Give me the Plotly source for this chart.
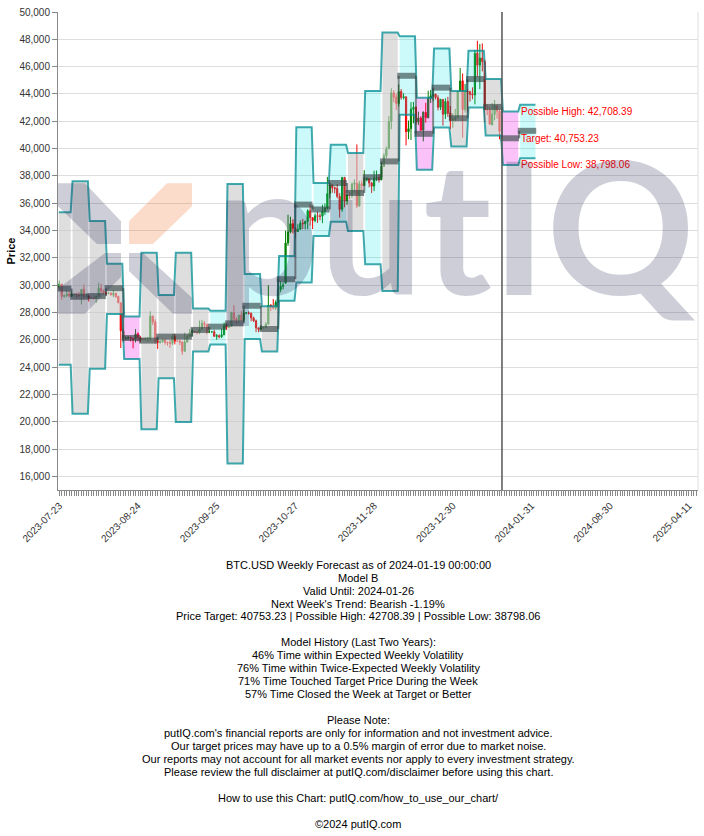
import pandas as pd
import plotly.graph_objects as go

# ---------------- daily candles (BTC.USD) ----------------
candle_dates = pd.date_range("2023-07-23", "2024-01-18", freq="D")
open_ = [
    29790, 30080, 29180, 29230, 29350, 29210, 29320, 29360, 29280,
    29230, 29700, 29170, 29180, 29070, 29050, 29040, 29180, 29770, 29580, 29450, 29400, 29420, 29280, 29410, 29170,
    28700, 26640, 26050, 26100, 26190, 26120, 26040, 26430, 26160, 26060, 26010, 26090, 26110, 27730, 27300,
    25930, 25800, 25870, 25970, 25810, 25780, 25750, 26240, 25900, 25900, 25840, 25160, 25840, 26230, 26540,
    26610, 26570, 26530, 26760, 27210, 27130, 26570, 26580, 26580, 26250, 26300, 26220, 26370, 27020, 26910,
    26970, 27990, 27520, 27430, 27800, 27430, 27950, 27970, 27940, 27600, 27390, 26870, 26760, 26860, 26870,
    27150, 28520, 28410, 28330, 28730, 29680, 29920, 30140, 33090, 33900, 34500, 34160, 33920, 34090, 34540, 34500,
    34660, 35450, 34940, 34730, 35080, 35050, 35050, 35420, 35630, 36700, 37310, 37130, 37070, 36500, 35550,
    37880, 36160, 36590, 36590, 37390, 37470, 35810, 37420, 37290, 37720, 37800, 37480, 37250, 37830, 37860,
    37720, 38690, 39470, 39980, 41990, 44080, 43770, 43300, 44180, 43730, 43790, 41240, 41470, 42880, 43030,
    41940, 42240, 41350, 42650, 42260, 43670, 43870, 43990, 43730, 43020, 43600, 42520, 43450, 42610, 42090, 42150,
    42280, 44190, 44960, 42860, 44190, 44160, 43990, 43930, 46990, 46110, 46630, 46370, 42840, 42840, 41730,
    42500, 43130, 42740,
]
high_ = [
    30330, 30090, 29300, 29670, 29570, 29530, 29400, 29450, 29510,
    29730, 30040, 29410, 29310, 29110, 29160, 29240, 30180, 30090, 29690, 29530, 29460, 29450, 29660, 29440, 29230,
    28760, 26790, 26260, 26260, 26210, 26130, 26780, 26550, 26260, 26090, 26170, 26200, 28090, 27760, 27490,
    26130, 25980, 26100, 26090, 25860, 26000, 26410, 26420, 25930, 25980, 25880, 26530, 26370, 26790, 26840,
    26660, 26620, 27410, 27460, 27370, 27150, 26720, 26640, 26720, 26420, 26390, 26810, 27260, 27200, 27090,
    28050, 28540, 27660, 27830, 28100, 28220, 28030, 28090, 27990, 27700, 27480, 26910, 27090, 26970, 27290,
    30000, 28610, 28980, 28890, 30200, 30290, 30200, 34000, 35150, 35010, 34820, 34240, 34460, 34740, 34850, 34720,
    35560, 35920, 34950, 35240, 35380, 35250, 35890, 35980, 37930, 37510, 37410, 37220, 37400, 36740, 37930,
    37930, 36690, 36830, 37520, 37750, 40300, 37640, 37660, 38420, 37890, 37820, 37560, 38380, 38390, 38140,
    38960, 39660, 40140, 42370, 44410, 44270, 44040, 44700, 44360, 44050, 43800, 42050, 43400, 43420, 43080,
    42700, 42360, 42720, 43350, 44240, 44290, 44370, 44000, 43910, 43600, 43600, 43680, 43790, 43120, 42600, 42900,
    44180, 45900, 45500, 44730, 44340, 44230, 44480, 47220, 47890, 47650, 47700, 46500, 43240, 43070, 43330,
    43560, 43200, 42880,
]
low_ = [
    29640, 28930, 29080, 29110, 29100, 29130, 29260, 29040, 29110,
    28590, 28960, 29100, 28800, 28980, 28960, 28700, 29130, 29400, 29320, 29260, 29360, 29260, 29120, 29060, 28700,
    25400, 25800, 25980, 26000, 25880, 25370, 25800, 25880, 25800, 25990, 25990, 25860, 25920, 27070, 25700,
    25330, 25720, 25780, 25640, 25570, 25400, 25620, 25660, 25860, 25610, 24900, 25130, 25770, 26210, 26240,
    26490, 26380, 26410, 26700, 26860, 26400, 26490, 26540, 26220, 26000, 26100, 26130, 26330, 26720, 26890,
    26960, 27330, 27170, 27220, 27380, 27290, 27870, 27840, 27350, 27300, 26560, 26560, 26690, 26810, 26850,
    27130, 28110, 28220, 28180, 28690, 29480, 29690, 30100, 32880, 33800, 33790, 33460, 33900, 34050, 34110, 34090,
    34100, 34360, 34110, 34600, 34560, 34750, 34540, 35140, 35560, 36360, 36760, 36720, 36360, 34940, 35370,
    35700, 35880, 36290, 36400, 36750, 35650, 35730, 36870, 37260, 37600, 37160, 36750, 36890, 37620, 37510,
    37690, 38650, 39300, 39980, 41420, 43390, 42830, 43080, 43580, 43600, 40230, 40680, 40630, 41850, 41720,
    41720, 41260, 40530, 41900, 42210, 43340, 43460, 43590, 42790, 42820, 41680, 42170, 42320, 41420, 41530, 41990,
    42220, 44180, 40800, 42630, 42660, 43440, 43610, 43240, 45240, 44350, 45650, 41900, 42450, 41720, 41720,
    42080, 42200, 40680,
]
close_ = [
    30080, 29180, 29230, 29350, 29220, 29320, 29360, 29280, 29230,
    29680, 29180, 29180, 29070, 29050, 29040, 29180, 29770, 29580, 29450, 29400, 29420, 29280, 29410, 29170, 28700,
    26660, 26050, 26100, 26190, 26120, 26040, 26430, 26160, 26060, 26010, 26090, 26110, 27730, 27300, 25930,
    25800, 25870, 25970, 25810, 25780, 25750, 26240, 25900, 25900, 25840, 25160, 25840, 26230, 26540, 26610,
    26570, 26530, 26760, 27210, 27130, 26570, 26580, 26580, 26250, 26300, 26220, 26370, 27020, 26910, 26970,
    27990, 27520, 27430, 27800, 27430, 27950, 27970, 27940, 27600, 27390, 26870, 26760, 26860, 26870, 27150,
    28520, 28410, 28330, 28720, 29680, 29920, 29990, 33090, 33900, 34500, 34160, 33910, 34090, 34540, 34500, 34670,
    35440, 34940, 34730, 35080, 35050, 35040, 35420, 35630, 36700, 37310, 37130, 37070, 36500, 35540, 37880,
    36150, 36600, 36590, 37390, 37470, 35810, 37420, 37290, 37720, 37800, 37480, 37250, 37830, 37860, 37710,
    38690, 39460, 39970, 41980, 44080, 43750, 43290, 44170, 43730, 43790, 41240, 41450, 42890, 43020, 41930,
    42240, 41360, 42660, 42260, 43660, 43870, 43990, 43740, 43020, 43610, 42520, 43440, 42580, 42070, 42140, 42280,
    44180, 44950, 42850, 44180, 44160, 43970, 43930, 46970, 46110, 46630, 46370, 42850, 42840, 41800, 42510,
    43150, 42740, 41260,
]

# ---------------- weekly forecast bands ----------------
week_starts = [
    "2023-07-22 10:00", "2023-07-28", "2023-08-04", "2023-08-11", "2023-08-18", "2023-08-25",
    "2023-09-01", "2023-09-08", "2023-09-15", "2023-09-22", "2023-09-29", "2023-10-06",
    "2023-10-13", "2023-10-20", "2023-10-27", "2023-11-03", "2023-11-10", "2023-11-17",
    "2023-11-24", "2023-12-01", "2023-12-08", "2023-12-15", "2023-12-22", "2023-12-29",
    "2024-01-05", "2024-01-12", "2024-01-19", "2024-01-26",
]
week_end_last = "2024-02-02"
week_high = [
    35340, 37600, 34690, 31575, 27710, 32380, 29270, 32380, 28290, 28125, 37410, 30820,
    28450, 32135, 41560, 37480, 40280, 39670, 44220, 48490, 48230, 43730, 47330, 44220,
    47160, 45090, 42708.39, 43200,
]
week_low = [
    24170, 20590, 23870, 27880, 24600, 19450, 23190, 19980, 25135, 25646, 16944, 26060,
    25135, 28850, 30190, 33600, 34650, 33960, 31530, 29580, 42470, 38450, 41540, 40160,
    43000, 40960, 38798.06, 39300,
]
week_target = [
    29750, 29150, 29200, 29780, 26130, 25940, 26230, 26230, 26720, 26960, 27200, 28490,
    26790, 30435, 35900, 35540, 37480, 36750, 37900, 39060, 45330, 41080, 44460, 42220,
    45090, 43050, 40753.23, 41300,
]
# zone of each week: N = neutral (grey), U = cyan, D = pink
week_zone = [
    "N", "N", "N", "N", "D", "N", "N", "N", "N", "U", "N", "U",
    "N", "U", "U", "U", "U", "N", "U", "N", "U", "D", "U", "N",
    "U", "N", "D", "U",
]

forecast_date = "2024-01-19"
label_date = "2024-01-26"
forecast_high, forecast_target, forecast_low = 42708.39, 40753.23, 38798.06

tick_dates = ["2023-07-23", "2023-08-24", "2023-09-25", "2023-10-27", "2023-11-28",
              "2023-12-30", "2024-01-31", "2024-03-03", "2024-04-04"]
tick_labels = ["2023-07-23", "2023-08-24", "2023-09-25", "2023-10-27", "2023-11-28",
               "2023-12-30", "2024-01-31", "2024-08-30", "2025-04-11"]
y_ticks = list(range(16000, 50001, 2000))

footer_lines = [
    "BTC.USD Weekly Forecast as of 2024-01-19 00:00:00",
    "Model B",
    "Valid Until: 2024-01-26",
    "Next Week's Trend: Bearish -1.19%",
    "Price Target: 40753.23 | Possible High: 42708.39 | Possible Low: 38798.06",
    "",
    "Model History (Last Two Years):",
    "46% Time within Expected Weekly Volatility",
    "76% Time within Twice-Expected Weekly Volatility",
    "71% Time Touched Target Price During the Week",
    "57% Time Closed the Week at Target or Better",
    "",
    "Please Note:",
    "putIQ.com's financial reports are only for information and not investment advice.",
    "Our target prices may have up to a 0.5% margin of error due to market noise.",
    "Our reports may not account for all market events nor apply to every investment strategy.",
    "Please review the full disclaimer at putIQ.com/disclaimer before using this chart.",
    "",
    "How to use this Chart: putIQ.com/how_to_use_our_chart/",
    "",
    "\u00a92024 putIQ.com",
]

# ---------------- styling ----------------
W, H = 704, 836
ML, MR, MT, MB = 58, 6, 10, 346
PW, PH = W - ML - MR, H - MT - MB
FONT = "Arial, Liberation Sans, sans-serif"
ZONE_FILL = {"N": "rgba(200,200,200,0.6)", "U": "rgba(0,232,235,0.2)", "D": "rgba(240,0,235,0.24)"}
EDGE = "rgba(0,140,145,0.75)"
BAR = "rgba(50,66,66,0.62)"

starts = pd.to_datetime(week_starts, format="ISO8601")
ends = list(starts[1:]) + [pd.Timestamp(week_end_last)]
d = pd.Timedelta(hours=9)

fig = go.Figure()

# band fills
for z in ["N", "U", "D"]:
    xs, ys = [], []
    for s, e, hi, lo, zz in zip(starts, ends, week_high, week_low, week_zone):
        if zz != z:
            continue
        xs += [s + d, s + d, e - d, e - d, s + d, None]
        ys += [lo, hi, hi, lo, lo, None]
    fig.add_trace(go.Scatter(x=xs, y=ys, fill="toself", fillcolor=ZONE_FILL[z], mode="none",
                             hoverinfo="skip", showlegend=False))

# band outlines
for vals in (week_high, week_low):
    xs, ys = [], []
    for s, e, v in zip(starts, ends, vals):
        xs += [s + d, e - d]
        ys += [v, v]
    fig.add_trace(go.Scatter(x=xs, y=ys, mode="lines", line=dict(color=EDGE, width=2),
                             hoverinfo="skip", showlegend=False))

# candles
fig.add_trace(go.Candlestick(
    x=candle_dates, open=open_, high=high_, low=low_, close=close_,
    increasing=dict(line=dict(color="#008000", width=1), fillcolor="#008000"),
    decreasing=dict(line=dict(color="#ff0000", width=1), fillcolor="#ff0000"),
    whiskerwidth=0, showlegend=False, hoverinfo="skip"))

# target: thin vertical connectors between weeks + thick weekly bars
xs, ys = [], []
for i in range(len(week_target) - 1):
    xs += [ends[i], ends[i], None]
    ys += [week_target[i], week_target[i + 1], None]
fig.add_trace(go.Scatter(x=xs, y=ys, mode="lines", line=dict(color=BAR, width=2),
                         hoverinfo="skip", showlegend=False))
xs, ys = [], []
for s, e, t in zip(starts, ends, week_target):
    xs += [s - pd.Timedelta(hours=14), e - pd.Timedelta(hours=2), None]
    ys += [t, t, None]
fig.add_trace(go.Scatter(x=xs, y=ys, mode="lines", line=dict(color=BAR, width=6),
                         hoverinfo="skip", showlegend=False))

# forecast labels
for txt, v in [("Possible High: ", forecast_high), ("Target: ", forecast_target),
               ("Possible Low: ", forecast_low)]:
    fig.add_annotation(x=label_date, y=v, text=f"{txt}{v:,.2f}", showarrow=False,
                       xanchor="left", yanchor="middle", xshift=0,
                       font=dict(family=FONT, size=10, color="#ff0000"))

shapes = [
    dict(type="line", xref="x", yref="paper", x0=forecast_date, x1=forecast_date, y0=0, y1=1,
         line=dict(color="#555555", width=1.5)),
    dict(type="line", xref="paper", yref="paper", x0=1, x1=1, y0=0, y1=1,
         line=dict(color="#dddddd", width=1)),
]


def px2paper(pts):
    return [((x - ML) / PW, (MT + PH - y) / PH) for x, y in pts]


def poly(pts, color):
    pp = px2paper(pts)
    path = "M " + " L ".join(f"{x:.4f},{y:.4f}" for x, y in pp) + " Z"
    return dict(type="path", xref="paper", yref="paper", path=path, fillcolor=color,
                line=dict(width=0), layer="above")


GREY_WM = "rgba(40,45,85,0.23)"
ORANGE_WM = "rgba(240,110,40,0.25)"
shapes += [
    poly([(58, 182), (85, 182), (121, 220), (121, 243), (97, 243), (58, 205)], GREY_WM),
    poly([(129, 220), (167, 182), (192, 182), (192, 205), (153, 243), (129, 243)], ORANGE_WM),
    poly([(58, 313), (85, 313), (121, 276), (121, 252), (105, 252), (58, 288)], GREY_WM),
    poly([(129, 252), (143, 252), (192, 297), (192, 313), (173, 313), (129, 270)], GREY_WM),
]

# watermark word
fig.add_annotation(xref="paper", yref="paper", x=(455 - ML) / PW, y=(MT + PH - 222) / PH,
                   text="putIQ", showarrow=False, xanchor="center", yanchor="middle",
                   font=dict(family="Lato", size=184, color=GREY_WM, weight=700))

# footer
for i, line in enumerate(footer_lines):
    if not line:
        continue
    py = 565 + 13 * i
    fig.add_annotation(xref="paper", yref="paper", x=(358 - ML) / PW, y=(MT + PH - py) / PH,
                       text=line, showarrow=False, xanchor="center", yanchor="middle",
                       font=dict(family=FONT, size=11, color="#000000"))

fig.update_layout(
    width=W, height=H, autosize=False,
    margin=dict(l=ML, r=MR, t=MT, b=MB, pad=0),
    paper_bgcolor="white", plot_bgcolor="white",
    shapes=shapes, showlegend=False,
    font=dict(family=FONT, size=10, color="#333333"),
    xaxis=dict(
        type="date", range=["2023-07-22 11:15", "2024-04-07 17:00"],
        tickmode="array", tickvals=tick_dates, ticktext=tick_labels, tickangle=-45,
        tickfont=dict(family=FONT, size=10, color="#333333"),
        ticks="outside", ticklen=5, tickcolor="#888888", tickwidth=1,
        showline=True, linecolor="#888888", linewidth=1, showgrid=False, zeroline=False,
        minor=dict(dtick=86400000, tick0="2023-07-23", ticks="outside", ticklen=5,
                   tickcolor="#888888", tickwidth=1, showgrid=False),
        rangeslider=dict(visible=False), fixedrange=True,
    ),
    yaxis=dict(
        range=[15000, 50000], tickmode="array", tickvals=y_ticks, tickformat=",",
        tickfont=dict(family=FONT, size=10, color="#333333"),
        ticks="outside", ticklen=5, tickcolor="#888888",
        showline=True, linecolor="#888888", linewidth=1,
        showgrid=True, gridcolor="#dddddd", gridwidth=1, zeroline=False,
        title=dict(text="<b>Price</b>", font=dict(family=FONT, size=11, color="#000000"), standoff=1),
        fixedrange=True,
    ),
)

fig.write_html("out.html")
